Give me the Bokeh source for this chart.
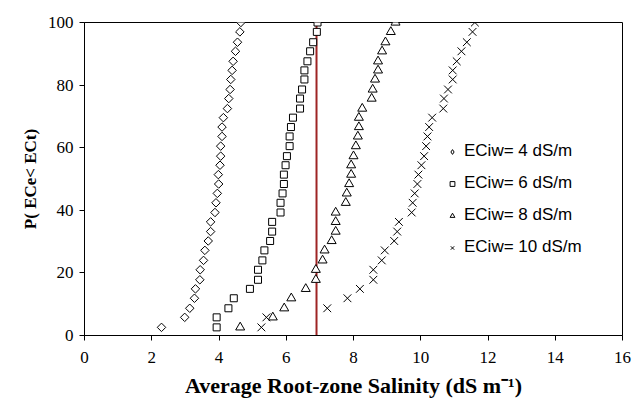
import math
from bokeh.plotting import figure
from bokeh.models import Legend, LegendItem, FixedTicker, Range1d, ColumnDataSource
from bokeh.embed import file_html
from bokeh.resources import INLINE

# ---- data ----
p_levels = [2.6, 5.8, 8.7, 11.9, 14.9, 17.8, 21.0, 24.0, 27.2, 30.2, 33.2, 36.3, 39.3,
            42.4, 45.4, 48.4, 51.4, 54.4, 57.3, 60.5, 63.6, 66.6, 69.6, 72.5, 75.7,
            78.6, 81.8, 84.7, 87.6, 90.8, 93.7, 97.0, 100.0]
ec4 = [2.29, 2.98, 3.13, 3.27, 3.30, 3.43, 3.44, 3.54, 3.58, 3.68, 3.75, 3.75, 3.88,
       3.91, 3.95, 3.99, 3.98, 4.03, 4.05, 4.05, 4.09, 4.09, 4.13, 4.25, 4.29,
       4.33, 4.35, 4.39, 4.42, 4.49, 4.55, 4.62, 4.65]
ec6 = [3.93, 3.93, 4.28, 4.44, 4.92, 5.16, 5.16, 5.29, 5.35, 5.52, 5.58, 5.58, 5.83,
       5.83, 5.89, 5.93, 5.93, 5.98, 6.02, 6.10, 6.10, 6.14, 6.20, 6.41, 6.41,
       6.47, 6.54, 6.54, 6.63, 6.71, 6.80, 6.91, 6.93]
ec8 = [4.63, 5.60, 5.94, 6.15, 6.58, 6.88, 6.88, 7.08, 7.14, 7.35, 7.47, 7.47, 7.47,
       7.77, 7.80, 7.87, 7.93, 7.93, 8.00, 8.07, 8.13, 8.16, 8.16, 8.26, 8.54,
       8.57, 8.64, 8.73, 8.73, 8.85, 8.95, 9.11, 9.25]
ec10 = [5.26, 5.41, 7.22, 7.82, 8.19, 8.59, 8.59, 8.84, 8.93, 9.21, 9.30, 9.35, 9.73,
        9.76, 9.82, 9.90, 9.93, 10.02, 10.10, 10.16, 10.20, 10.25, 10.34, 10.67, 10.69,
        10.81, 10.95, 10.95, 11.07, 11.21, 11.37, 11.54, 11.61]
threshold_x = 6.9
series_labels = ["ECiw= 4 dS/m", "ECiw= 6 dS/m", "ECiw= 8 dS/m", "ECiw= 10 dS/m"]
x_ticks = [0, 2, 4, 6, 8, 10, 12, 14, 16]
y_ticks = [0, 20, 40, 60, 80, 100]

p = figure(width=644, height=400, output_backend="svg", toolbar_location=None,
           x_range=Range1d(0, 16), y_range=Range1d(0, 100),
           min_border_left=84, min_border_right=22, min_border_top=22, min_border_bottom=65)
p.background_fill_color = "white"
p.border_fill_color = "white"
p.outline_line_color = "black"
p.outline_line_width = 1
p.xgrid.visible = False
p.ygrid.visible = False

serif = "Liberation Serif"
for ax in (p.xaxis, p.yaxis):
    ax.axis_line_color = "black"
    ax.major_tick_line_color = "black"
    ax.minor_tick_line_color = None
    ax.major_tick_out = 5
    ax.major_tick_in = 0
    ax.major_label_text_font = serif
    ax.major_label_text_font_size = "17px"
    ax.major_label_text_color = "black"
    ax.axis_label_text_font = serif
    ax.axis_label_text_font_style = "bold"
    ax.axis_label_text_color = "black"

p.xaxis.ticker = FixedTicker(ticks=x_ticks)
p.yaxis.ticker = FixedTicker(ticks=y_ticks)
p.xaxis.major_label_standoff = 11
p.yaxis.major_label_standoff = 6
p.xaxis.axis_label = "Average Root-zone Salinity (dS m\u207b\u00b9)"
p.yaxis.axis_label = "P( ECe< ECt)"
p.xaxis.axis_label_text_font_size = "22px"
p.yaxis.axis_label_text_font_size = "17px"
p.xaxis.axis_label_standoff = 7
p.yaxis.axis_label_standoff = 5

# threshold line
p.segment(x0=[threshold_x], y0=[0], x1=[threshold_x], y1=[100],
          line_color="#9e2424", line_width=2)

common = dict(line_color="black", fill_color="white", line_width=1)
r4 = p.scatter(ec4, p_levels, marker="square", angle=math.pi / 4, size=6, **common)
r6 = p.scatter(ec6, p_levels, marker="square", size=7, **common)
r8 = p.scatter(ec8, p_levels, marker="triangle", size=9, **common)
r10 = p.scatter(ec10, p_levels, marker="x", size=11, line_color="black", line_width=1)

# legend-only renderer for the diamond (legend draws markers without angle)
l1 = p.scatter("x", "y", source=ColumnDataSource(dict(x=[-100], y=[-100])),
               marker="diamond", size=6, **common)

legend = Legend(items=[LegendItem(label=series_labels[0], renderers=[l1]),
                       LegendItem(label=series_labels[1], renderers=[r6]),
                       LegendItem(label=series_labels[2], renderers=[r8]),
                       LegendItem(label=series_labels[3], renderers=[r10])],
                location=(362, 78), border_line_color=None, background_fill_alpha=0,
                spacing=12, glyph_width=12, glyph_height=13, label_standoff=6,
                label_text_font="Liberation Sans", label_text_font_size="17px",
                label_text_color="black", padding=10)
p.add_layout(legend, "center")

open("out.html", "w").write(file_html(p, INLINE))
